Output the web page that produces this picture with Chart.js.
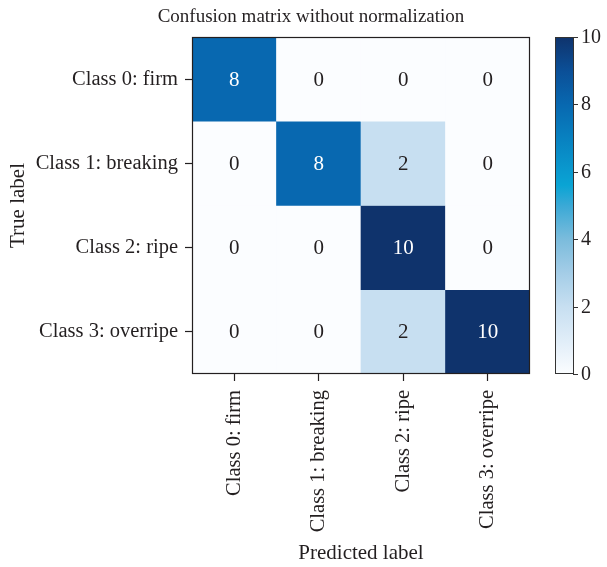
<!DOCTYPE html>
<html>
<head>
<meta charset="utf-8">
<script src="https://cdn.jsdelivr.net/npm/chart.js@4/dist/chart.umd.min.js"></script>
<style>
  html, body { margin: 0; padding: 0; background: #ffffff; }
  #wrap { width: 607px; height: 567px; }
</style>
</head>
<body>
<div id="wrap"><canvas id="cm"></canvas></div>
<script>
// Class names shown on both axes
const predictedLabels = ['Class 0: firm', 'Class 1: breaking', 'Class 2: ripe', 'Class 3: overripe'];
const trueLabels = ['Class 0: firm', 'Class 1: breaking', 'Class 2: ripe', 'Class 3: overripe'];

// Counts per true class (rows) and predicted class (columns)
const row0 = [8, 0, 0, 0];
const row1 = [0, 8, 2, 0];
const row2 = [0, 0, 10, 0];
const row3 = [0, 0, 2, 10];
const counts = [row0, row1, row2, row3];

// Colour bar range and its tick labels
const colorbarMin = 0;
const colorbarMax = 10;
const colorbarTicks = [0, 2, 4, 6, 8, 10];

const FONT = "'Liberation Serif', 'Times New Roman', serif";
const INK = '#231f20';

// Blue colour map (value -> colour)
const cmapStops = [
  [0, '#fbfdff'], [1, '#e0edf8'], [2, '#c7dff1'], [3, '#a4cde7'],
  [4, '#7bbcdc'], [5, '#3aa9d6'], [5.6, '#0aa4d4'], [6, '#0a9acf'],
  [7, '#0881c0'], [8, '#0868b0'], [9, '#0b4f97'], [10, '#0f336c']
];
function hexToRgb(h) {
  return [parseInt(h.slice(1, 3), 16), parseInt(h.slice(3, 5), 16), parseInt(h.slice(5, 7), 16)];
}
function cmap(v) {
  for (let i = 0; i < cmapStops.length - 1; i++) {
    const [v0, c0] = cmapStops[i], [v1, c1] = cmapStops[i + 1];
    if (v <= v1) {
      const t = Math.max(0, (v - v0) / (v1 - v0));
      const a = hexToRgb(c0), b = hexToRgb(c1);
      const m = a.map((x, k) => Math.round(x + (b[k] - x) * t));
      return `rgb(${m[0]},${m[1]},${m[2]})`;
    }
  }
  return cmapStops[cmapStops.length - 1][1];
}

// One floating-bar dataset per true class; each bar spans its row
const datasets = trueLabels.map((lab, r) => ({
  label: lab,
  data: counts[r].map(() => [r - 0.5, r + 0.5]),
  backgroundColor: counts[r].map(v => cmap(v)),
  borderWidth: 0,
  grouped: false,
  barPercentage: 1,
  categoryPercentage: 1
}));

// Writes each count in the middle of its cell
const cellText = {
  id: 'cellText',
  afterDatasetsDraw(chart) {
    const ctx = chart.ctx;
    ctx.save();
    ctx.font = `21px ${FONT}`;
    ctx.textAlign = 'center';
    ctx.textBaseline = 'middle';
    chart.data.datasets.forEach((ds, r) => {
      chart.getDatasetMeta(r).data.forEach((el, c) => {
        const v = counts[r][c];
        ctx.fillStyle = v > colorbarMax / 2 ? '#ffffff' : INK;
        ctx.fillText(String(v), el.x, (el.y + el.base) / 2 + 1);
      });
    });
    ctx.restore();
  }
};

// Frame round the matrix and the colour bar on the right
const frameAndColorbar = {
  id: 'frameAndColorbar',
  afterDraw(chart) {
    const ctx = chart.ctx;
    const a = chart.chartArea;
    ctx.save();
    ctx.strokeStyle = INK;
    ctx.lineWidth = 1.2;
    ctx.strokeRect(Math.round(a.left) + 0.5, Math.round(a.top) + 0.5,
      Math.round(a.right - a.left) - 1, Math.round(a.bottom - a.top) - 1);

    const s = chart.scales.cb;
    const yTop = s.getPixelForValue(colorbarMax);
    const yBot = s.getPixelForValue(colorbarMin);
    const x0 = a.right + 25;
    const w = 18;
    const grad = ctx.createLinearGradient(0, yBot, 0, yTop);
    cmapStops.forEach(([v, col]) => grad.addColorStop((v - colorbarMin) / (colorbarMax - colorbarMin), col));
    ctx.fillStyle = grad;
    ctx.fillRect(x0, yTop, w, yBot - yTop);
    ctx.strokeStyle = '#333';
    ctx.lineWidth = 1;
    ctx.strokeRect(Math.round(x0) + 0.5, Math.round(yTop) + 0.5, w, Math.round(yBot - yTop) - 1);

    ctx.fillStyle = INK;
    ctx.font = `20px ${FONT}`;
    ctx.textAlign = 'left';
    ctx.textBaseline = 'middle';
    colorbarTicks.forEach(t => {
      const y = Math.round(s.getPixelForValue(t)) + 0.5;
      ctx.beginPath();
      ctx.moveTo(x0 + w, y);
      ctx.lineTo(x0 + w + 5, y);
      ctx.stroke();
      ctx.fillText(String(t), x0 + w + 8, y);
    });
    ctx.restore();
  }
};

new Chart(document.getElementById('cm'), {
  type: 'bar',
  data: { labels: predictedLabels, datasets },
  options: {
    responsive: true,
    maintainAspectRatio: false,
    animation: false,
    layout: { padding: { left: 15, right: 0, top: 0, bottom: 0 } },
    plugins: {
      legend: { display: false },
      tooltip: { enabled: false },
      title: {
        display: true,
        text: 'Confusion matrix without normalization',
        color: INK,
        font: { family: FONT, size: 19, weight: 'normal' },
        padding: { top: 6, bottom: 8.2 }
      }
    },
    scales: {
      x: {
        type: 'category',
        offset: true,
        grid: { offset: false, drawOnChartArea: false, tickLength: 7, tickColor: INK, tickWidth: 1.2 },
        border: { display: false },
        ticks: {
          color: INK, font: { family: FONT, size: 20.5 },
          minRotation: 90, maxRotation: 90, autoSkip: false, padding: 9
        },
        title: {
          display: true, text: 'Predicted label', color: INK,
          font: { family: FONT, size: 21 }, padding: { top: 0, bottom: 1 }
        },
        afterFit(scale) { scale.height = 193; }
      },
      y: {
        type: 'linear',
        min: -0.5,
        max: trueLabels.length - 0.5,
        reverse: true,
        afterBuildTicks(scale) { scale.ticks = trueLabels.map((_, i) => ({ value: i })); },
        grid: { drawOnChartArea: false, tickLength: 7, tickColor: INK, tickWidth: 1.2 },
        border: { display: false },
        ticks: {
          color: INK, font: { family: FONT, size: 20.5 }, padding: 7,
          callback: (v) => trueLabels[v]
        },
        title: {
          display: true, text: 'True label', color: INK,
          font: { family: FONT, size: 21 }, padding: { top: -9, bottom: 0 }
        },
        afterFit(scale) { scale.width = 177; }
      },
      cb: {
        type: 'linear',
        axis: 'y',
        position: 'right',
        min: colorbarMin,
        max: colorbarMax,
        grid: { display: false },
        border: { display: false },
        ticks: { display: false },
        afterFit(scale) { scale.width = 77; }
      }
    }
  },
  plugins: [cellText, frameAndColorbar]
});
</script>
</body>
</html>
